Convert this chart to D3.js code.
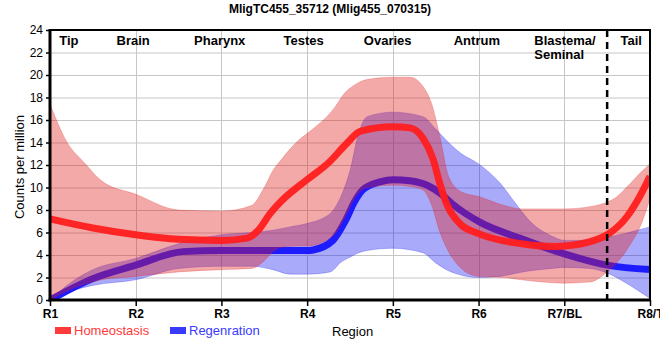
<!DOCTYPE html>
<html>
<head>
<meta charset="utf-8">
<script src="https://cdn.jsdelivr.net/npm/d3@7/dist/d3.min.js"></script>
<style>
  html, body { margin: 0; padding: 0; background: #fff; }
  svg { display: block; font-family: "Liberation Sans", Arial, sans-serif; }
</style>
</head>
<body>
<svg id="chart" width="660" height="360"></svg>
<script>
// ---------- data ----------
const title = "MligTC455_35712 (Mlig455_070315)";
const xTickLabels = ["R1", "R2", "R3", "R4", "R5", "R6", "R7/BL", "R8/T"];
const yTicks = [0, 2, 4, 6, 8, 10, 12, 14, 16, 18, 20, 22, 24];
const regionNames = [["Tip"], ["Brain"], ["Pharynx"], ["Testes"], ["Ovaries"], ["Antrum"], ["Blastema/", "Seminal"], ["Tail"]];
const regionNamePos = [0.22, 0.97, 1.98, 2.96, 3.94, 4.98, 5.65, 6.78];
const dividerAt = 6.5;
const seriesNames = ["Homeostasis", "Regenration"];

// Homeostasis mean line (x in region units, value in CPM)
const homeoX = [0, 0.5, 1, 1.5, 2, 2.3, 2.43, 2.57, 2.7, 3, 3.25, 3.46, 3.62, 4, 4.2, 4.35, 4.47, 4.55, 4.63, 4.78, 5, 5.5, 5.9, 6, 6.35, 6.5, 6.73, 6.88, 7];
const homeoY = [7.2, 6.4, 5.8, 5.4, 5.3, 5.5, 6.2, 7.7, 8.8, 10.7, 12.2, 13.9, 15.0, 15.4, 15.3, 14.4, 12.5, 10.3, 8.5, 6.8, 5.9, 5.0, 4.75, 4.8, 5.3, 5.8, 7.4, 9.2, 11.0];
// Homeostasis band
const homeoBandX = [0, 0.2, 0.4, 0.6, 1, 1.5, 2, 2.35, 2.5, 2.6, 2.7, 2.9, 3, 3.3, 3.45, 3.55, 3.7, 4, 4.2, 4.35, 4.45, 4.55, 4.65, 4.8, 5, 5.3, 5.5, 6, 6.3, 6.5, 6.6, 6.75, 6.9, 7];
const homeoUpper = [17.4, 14.0, 12.2, 10.6, 9.4, 8.0, 7.9, 8.4, 10.0, 11.5, 12.5, 14.2, 14.8, 16.9, 18.5, 19.1, 19.6, 19.8, 19.8, 19.0, 17.5, 14.5, 11.0, 9.6, 9.2, 8.4, 8.1, 8.1, 8.3, 8.7, 9.1, 10.2, 11.4, 12.1];
const homeoLower = [0, 0.8, 1.4, 1.8, 2.1, 2.5, 2.7, 2.8, 3.5, 4.3, 4.7, 4.8, 4.8, 5.7, 7.5, 9.0, 10.0, 10.2, 10.1, 9.8, 8.5, 6.0, 4.3, 2.8, 2.1, 2.0, 1.8, 1.5, 1.6, 2.5, 3.2, 4.7, 6.8, 9.0];

// Regeneration mean line
const regenX = [0, 0.5, 1, 1.55, 2, 3, 3.07, 3.3, 3.45, 3.55, 3.65, 3.85, 4, 4.2, 4.4, 4.55, 4.7, 5.02, 5.48, 6, 6.5, 7];
const regenY = [0, 1.9, 3.1, 4.3, 4.4, 4.4, 4.45, 5.3, 7.1, 8.7, 9.8, 10.5, 10.7, 10.6, 10.2, 9.5, 8.5, 6.9, 5.5, 4.1, 3.1, 2.7];
// Regeneration band
const regenBandX = [0, 0.25, 0.5, 1, 1.5, 2, 2.35, 2.6, 2.8, 3, 3.27, 3.4, 3.5, 3.6, 3.7, 4, 4.35, 4.5, 4.65, 4.8, 5, 5.25, 5.45, 5.6, 5.85, 6, 6.3, 6.5, 6.7, 6.85, 7];
const regenUpper = [0, 1.6, 2.7, 3.7, 5.0, 5.8, 6.0, 6.2, 6.5, 6.8, 7.7, 9.3, 11.5, 14.8, 16.3, 16.7, 16.3, 15.2, 14.0, 13.0, 12.1, 10.4, 8.4, 7.0, 5.7, 5.3, 5.3, 5.6, 5.9, 6.2, 6.5];
const regenLower = [0, 0.8, 1.3, 1.8, 2.8, 3.0, 3.0, 2.7, 2.3, 2.3, 2.5, 3.4, 3.8, 4.2, 4.4, 4.6, 4.2, 3.3, 2.6, 2.2, 2.0, 2.1, 2.4, 2.6, 2.8, 2.9, 2.8, 2.4, 1.6, 0.9, 0.15];

// ---------- drawing ----------
const svg = d3.select("#chart");
const x = d3.scaleLinear().domain([0, 7]).range([50, 650]);
const y = d3.scaleLinear().domain([0, 24]).range([300, 30]);

svg.append("defs").append("clipPath").attr("id", "plotclip")
  .append("rect").attr("x", x(0)).attr("y", y(24)).attr("width", x(7) - x(0)).attr("height", y(0) - y(24));

// gridlines
const grid = svg.append("g").attr("stroke", "#c6c6c6").attr("stroke-width", 1);
grid.selectAll("line.h").data(yTicks.filter(v => v > 0 && v < 24)).enter().append("line")
  .attr("x1", x(0)).attr("x2", x(7)).attr("y1", d => y(d) + 0.5).attr("y2", d => y(d) + 0.5);
grid.selectAll("line.v").data(d3.range(1, 7)).enter().append("line")
  .attr("x1", d => Math.round(x(d)) + 0.5).attr("x2", d => Math.round(x(d)) + 0.5).attr("y1", y(24)).attr("y2", y(0));

const plot = svg.append("g").attr("clip-path", "url(#plotclip)");

function band(xs, lo, hi) {
  return d3.area().curve(d3.curveMonotoneX)
    .x((d, i) => x(xs[i])).y0((d, i) => y(lo[i])).y1((d, i) => y(hi[i]))(xs);
}
function line(xs, ys) {
  return d3.line().curve(d3.curveMonotoneX)
    .x((d, i) => x(xs[i])).y((d, i) => y(ys[i]))(xs);
}

// Regeneration (drawn first)
plot.append("path").attr("d", band(regenBandX, regenLower, regenUpper))
  .attr("fill", "rgb(20,20,240)").attr("fill-opacity", 0.36)
  .attr("stroke", "rgb(20,20,240)").attr("stroke-opacity", 0.25).attr("stroke-width", 1);
plot.append("path").attr("d", line(regenX, regenY))
  .attr("fill", "none").attr("stroke", "#1c1cff").attr("stroke-width", 7).attr("stroke-linecap", "butt");

// Homeostasis
plot.append("path").attr("d", band(homeoBandX, homeoLower, homeoUpper))
  .attr("fill", "rgb(225,30,30)").attr("fill-opacity", 0.38)
  .attr("stroke", "rgb(225,30,30)").attr("stroke-opacity", 0.25).attr("stroke-width", 1);
plot.append("path").attr("d", line(homeoX, homeoY))
  .attr("fill", "none").attr("stroke", "#ff1e1e").attr("stroke-opacity", 0.95).attr("stroke-width", 7);

// dashed divider
svg.append("line").attr("x1", x(dividerAt)).attr("x2", x(dividerAt)).attr("y1", y(24)).attr("y2", y(0) + 6)
  .attr("stroke", "#000").attr("stroke-width", 2.5).attr("stroke-dasharray", "7,5");

// frame top & right
svg.append("line").attr("x1", x(0)).attr("x2", x(7) + 1).attr("y1", y(24)).attr("y2", y(24)).attr("stroke", "#000").attr("stroke-width", 2);
svg.append("line").attr("x1", x(7)).attr("x2", x(7)).attr("y1", y(24)).attr("y2", y(0)).attr("stroke", "#000").attr("stroke-width", 2);

// y axis
const yAxis = svg.append("g").attr("transform", `translate(${x(0)},0)`)
  .call(d3.axisLeft(y).tickValues(yTicks).tickSize(4).tickPadding(3).tickFormat(d3.format("d")));
yAxis.select(".domain").remove();
yAxis.selectAll(".tick line").attr("stroke", "#000").attr("stroke-width", 1.5);
yAxis.selectAll("text").attr("font-size", 12).attr("fill", "#000").attr("font-family", "Liberation Sans, Arial, sans-serif");
svg.append("line").attr("x1", x(0)).attr("x2", x(0)).attr("y1", y(24) - 1).attr("y2", y(0) + 1.5).attr("stroke", "#000").attr("stroke-width", 3);

// x axis
const xAxis = svg.append("g").attr("transform", `translate(0,${y(0)})`)
  .call(d3.axisBottom(x).tickValues(d3.range(0, 8)).tickSize(6).tickPadding(3).tickFormat(i => xTickLabels[i]));
xAxis.select(".domain").remove();
xAxis.selectAll(".tick line").attr("stroke", "#000").attr("stroke-width", 1.5);
xAxis.selectAll("text").attr("font-size", 12).attr("font-weight", "bold").attr("fill", "#000").attr("font-family", "Liberation Sans, Arial, sans-serif");
svg.append("line").attr("x1", x(0) - 1.5).attr("x2", x(7) + 1).attr("y1", y(0)).attr("y2", y(0)).attr("stroke", "#000").attr("stroke-width", 3);

// region names
regionNames.forEach((lines, i) => {
  const t = svg.append("text").attr("x", x(regionNamePos[i])).attr("y", 45)
    .attr("font-size", 13).attr("font-weight", "bold").attr("fill", "#000")
    .attr("text-anchor", lines.length > 1 ? "start" : "middle");
  lines.forEach((s, j) => t.append("tspan").attr("x", x(regionNamePos[i])).attr("dy", j === 0 ? 0 : 14).text(s));
});

// title
svg.append("text").attr("x", 330).attr("y", 13).attr("text-anchor", "middle")
  .attr("font-size", 12).attr("font-weight", "bold").attr("fill", "#000").text(title);

// y label
svg.append("text").attr("transform", "translate(24,167) rotate(-90)").attr("text-anchor", "middle")
  .attr("font-size", 13).attr("fill", "#000").text("Counts per million");

// x label
svg.append("text").attr("x", 332).attr("y", 336).attr("font-size", 13).attr("fill", "#000").text("Region");

// legend
const legendColors = ["#ff3a3a", "#3a3aff"];
const legendX = [55, 170];
seriesNames.forEach((name, i) => {
  svg.append("rect").attr("x", legendX[i]).attr("y", 327).attr("width", 16).attr("height", 7).attr("fill", legendColors[i]);
  svg.append("text").attr("x", legendX[i] + 19).attr("y", 335).attr("font-size", 13).attr("fill", legendColors[i]).text(name);
});
</script>
</body>
</html>
